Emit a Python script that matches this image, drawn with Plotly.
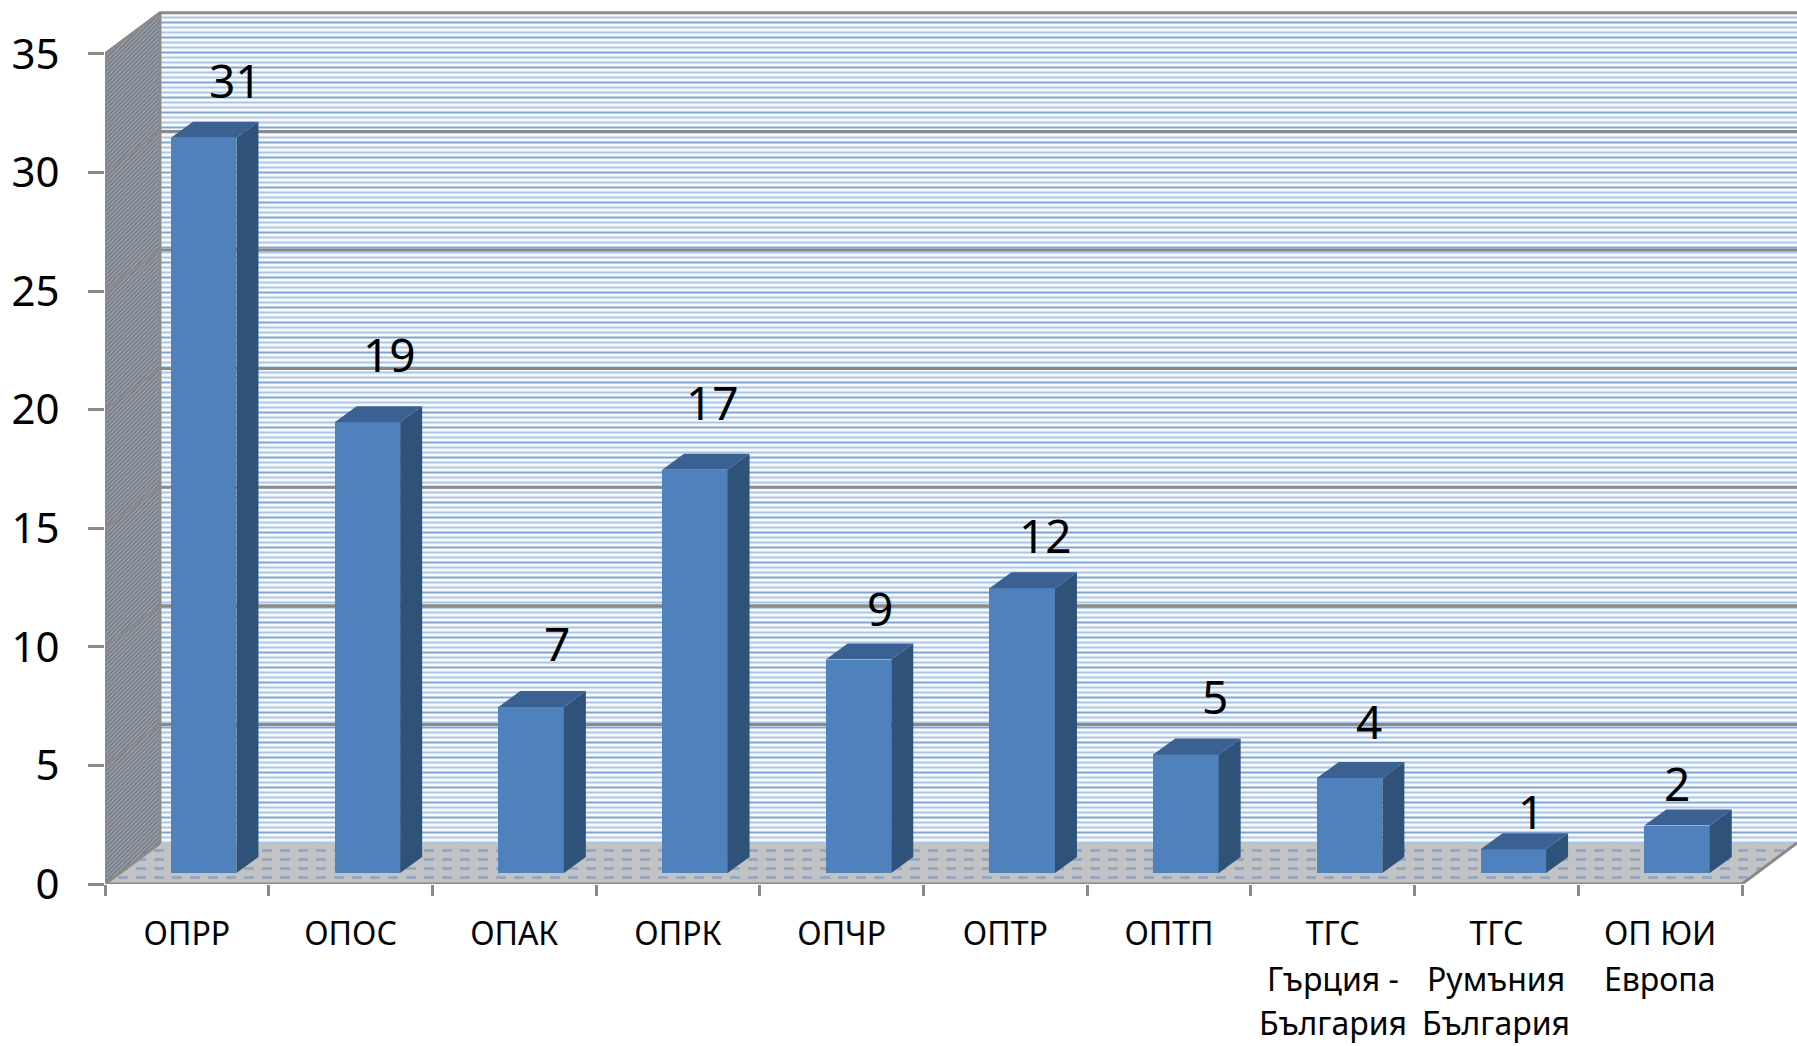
import plotly.graph_objects as go

categories = ["ОПРР", "ОПОС", "ОПАК", "ОПРК", "ОПЧР", "ОПТР", "ОПТП", "ТГС", "ТГС", "ОП ЮИ"]
second_line = ["", "", "", "", "", "", "", "Гърция -", "Румъния", "Европа"]
third_line = ["", "", "", "", "", "", "", "България", "България", ""]
values = [31, 19, 7, 17, 9, 12, 5, 4, 1, 2]
y_ticks = [0, 5, 10, 15, 20, 25, 30, 35]

# label nudges, px
label_dx = [32, 22, 26, 18, 21, 23, 29, 19, 18, 0]
label_dy = [42, 52, 48, 52, 36, 37, 42, 41, 22, 27]

W, H = 1797, 1046
L, B = 105, 162
PX_X = 163.7
PX_Y = 23.72
X_RANGE = [0, (W - L) / PX_X]
Y_RANGE = [0, (H - B) / PX_Y]
DX = 55 / PX_X      # wall depth in x units
DY = 41 / PX_Y      # wall depth in y units
BAR_W = 0.40
BAR_LEFT = 0.403
BAR_BASE = 11 / PX_Y
BAR_DX = 22 / PX_X
BAR_DY = 16 / PX_Y
N = len(categories)
TOP = 35
GRID = "#8a8a8a"
FONT = "Noto Sans, Open Sans, sans-serif"
CLEAR = "rgba(0,0,0,0)"

fig = go.Figure()

def poly(xs, ys, color=None, pattern=None, xa="x", ya="y"):
    kw = dict(x=xs + xs[:1], y=ys + ys[:1], mode="lines", fill="toself", line=dict(width=0),
              hoverinfo="skip", showlegend=False, xaxis=xa, yaxis=ya)
    if pattern:
        kw["fillpattern"] = pattern
        kw["fillcolor"] = pattern["bgcolor"]
    else:
        kw["fillcolor"] = color
    fig.add_trace(go.Scatter(**kw))

back_x, back_y = [DX, N + DX, N + DX, DX], [DY, DY, TOP + DY, TOP + DY]
poly(back_x, back_y, pattern=dict(shape="-", size=5, solidity=0.4, fgcolor="#adc6e4", bgcolor="#f7fafd", fillmode="replace"))
poly(back_x, back_y, pattern=dict(shape="-", size=15, solidity=0.1, fgcolor="#7fa4d3", bgcolor=CLEAR, fillmode="replace"))
# left wall
poly([0, DX, DX, 0], [0, DY, TOP + DY, TOP],
     pattern=dict(shape="/", size=3, solidity=0.5, fgcolor="#6f7988", bgcolor="#9fa2a7", fillmode="replace"))
# floor: stripes cut into dashes
floor_x, floor_y = [0, N, N + DX, DX], [0, 0, DY, DY]
poly(floor_x, floor_y, pattern=dict(shape="-", size=9, solidity=0.3, fgcolor="#93a5bd", bgcolor="#c2c3c4", fillmode="replace"))
poly(floor_x, floor_y, pattern=dict(shape="|", size=18, solidity=0.45, fgcolor="#c2c3c4", bgcolor=CLEAR, fillmode="replace"))

# grid lines
for v in y_ticks[1:]:
    fig.add_trace(go.Scatter(x=[0, DX, N + DX], y=[v, v + DY, v + DY], mode="lines",
                             line=dict(color=GRID, width=3), hoverinfo="skip", showlegend=False))
fig.add_trace(go.Scatter(x=[DX, DX, None, 0, 0, None, 0, DX, None, 0, N, N + DX],
                         y=[DY, TOP + DY, None, 0, TOP, None, 0, DY, None, 0, 0, DY],
                         mode="lines", line=dict(color=GRID, width=3), hoverinfo="skip", showlegend=False))

# bars
xs_c = [i + BAR_LEFT + BAR_W / 2 for i in range(N)]
fig.add_trace(go.Bar(x=xs_c, y=values, base=BAR_BASE, width=BAR_W, marker=dict(color="#4f81bd", line=dict(width=0)),
                     xaxis="x2", yaxis="y2", hoverinfo="skip", showlegend=False))
for i, v in enumerate(values):
    l = i + BAR_LEFT
    r = l + BAR_W
    t = BAR_BASE + v
    poly([r, r + BAR_DX, r + BAR_DX, r], [BAR_BASE, BAR_BASE + BAR_DY, t + BAR_DY, t], color="#2f5279", xa="x2", ya="y2")
    poly([l, r, r + BAR_DX, l + BAR_DX], [t, t, t + BAR_DY, t + BAR_DY], color="#3a6191", xa="x2", ya="y2")

annotations = []
for i, v in enumerate(values):
    annotations.append(dict(x=xs_c[i], y=BAR_BASE + v + BAR_DY, xref="x", yref="y", text=str(v), showarrow=False,
                            xshift=label_dx[i], yshift=label_dy[i], xanchor="center", yanchor="middle",
                            font=dict(size=46, color="black", family=FONT)))
for i in range(N):
    for txt, shift in ((second_line[i], -94), (third_line[i], -138)):
        if txt:
            annotations.append(dict(x=i + 0.5, y=0, xref="x", yref="y", text=txt, showarrow=False, yshift=shift,
                                    xanchor="center", yanchor="middle",
                                    font=dict(size=32, color="black", family=FONT)))

fig.update_layout(
    width=W, height=H, margin=dict(l=L, r=0, t=0, b=B, pad=0), paper_bgcolor="white", plot_bgcolor="white",
    showlegend=False, annotations=annotations, bargap=0,
    xaxis=dict(range=X_RANGE, showgrid=False, zeroline=False, showline=False, tickmode="array",
               tickvals=[i + 0.5 for i in range(N)], ticktext=categories, ticks="", ticklabelstandoff=28,
               tickfont=dict(size=32, color="black", family=FONT),
               minor=dict(tickmode="array", tickvals=list(range(N + 1)), ticks="outside", ticklen=11,
                          tickwidth=2.5, tickcolor=GRID)),
    yaxis=dict(range=Y_RANGE, showgrid=False, zeroline=False, showline=False, tickmode="array",
               tickvals=y_ticks, ticktext=[str(v) for v in y_ticks], ticks="outside", ticklen=16,
               tickwidth=2.5, tickcolor=GRID, ticklabelstandoff=20,
               tickfont=dict(size=42, color="black", family=FONT)),
    xaxis2=dict(range=X_RANGE, overlaying="x", visible=False),
    yaxis2=dict(range=Y_RANGE, overlaying="y", visible=False),
)
fig.write_html("out.html", config={"displayModeBar": False},
               post_script="document.body.style.margin='0';document.body.style.overflow='hidden';")
